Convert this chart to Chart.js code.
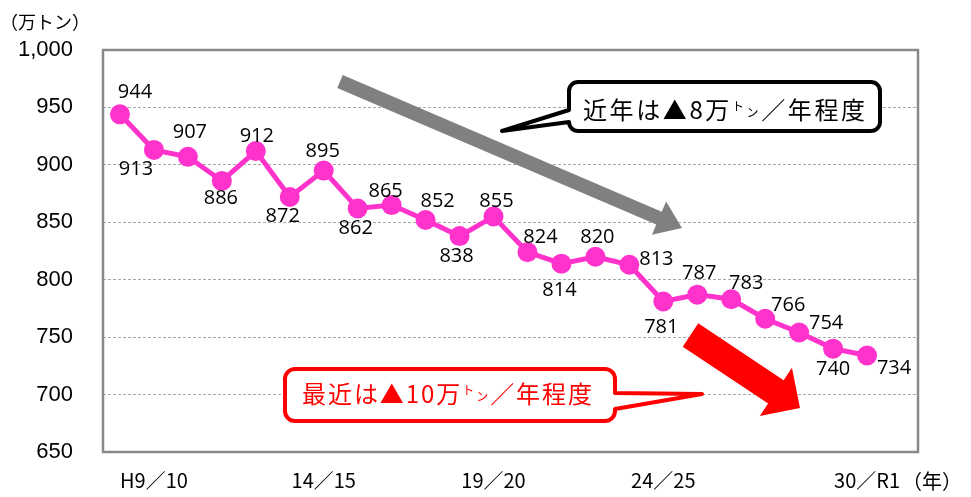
<!DOCTYPE html>
<html lang="ja">
<head>
    <meta charset="UTF-8">
    <title>漁獲量の推移</title>
    <script src="https://cdn.jsdelivr.net/npm/chart.js"></script>
    <style>
        html, body { margin: 0; padding: 0; background: #fff; }
        #wrap { width: 971px; height: 497px; position: relative; }
    </style>
</head>
<body>
    <div id="wrap"><canvas id="chart"></canvas></div>

    <script>
        // 年度 (H8/9 〜 30/R1) と 値 (万トン)
        const categories = ['H8/9', 'H9/10', '10/11', '11/12', '12/13', '13/14', '14/15', '15/16',
            '16/17', '17/18', '18/19', '19/20', '20/21', '21/22', '22/23', '23/24', '24/25',
            '25/26', '26/27', '27/28', '28/29', '29/30', '30/R1', ''];
        const values = [944, 913, 907, 886, 912, 872, 895, 862, 865, 852, 838, 855,
            824, 814, 820, 813, 781, 787, 783, 766, 754, 740, 734, null];
        const tickIndexes = [1, 6, 11, 16, 22];
        const yTicks = { min: 650, max: 1000, step: 50 };

        // ラベル位置のずれ (px)
        const labelOffsets = [[15, -23], [-18, 18], [2, -26], [-1, 16], [1, -16], [-7, 18],
            [-1, -21], [-2, 18], [-6, -15], [12, -20], [-3, 19], [3, -17], [13, -16], [-2, 25],
            [2, -21], [27, -7], [-2, 24], [2, -23], [15, -17], [23, -15], [27, -11], [0, 19], [27, 11]];

        const JP = '"Noto Sans CJK JP", "Noto Sans", sans-serif';

        function drawArrow(ctx, sx, sy, tx, ty, w, hw, hl, color) {
            const len = Math.hypot(tx - sx, ty - sy);
            const ux = (tx - sx) / len, uy = (ty - sy) / len;
            const nx = -uy, ny = ux;
            const bx = tx - ux * hl, by = ty - uy * hl;
            ctx.beginPath();
            ctx.moveTo(sx + nx * w / 2, sy + ny * w / 2);
            ctx.lineTo(bx + nx * w / 2, by + ny * w / 2);
            ctx.lineTo(bx + nx * hw / 2, by + ny * hw / 2);
            ctx.lineTo(tx, ty);
            ctx.lineTo(bx - nx * hw / 2, by - ny * hw / 2);
            ctx.lineTo(bx - nx * w / 2, by - ny * w / 2);
            ctx.lineTo(sx - nx * w / 2, sy - ny * w / 2);
            ctx.closePath();
            ctx.fillStyle = color;
            ctx.fill();
        }

        function callout(ctx, x0, y0, x1, y1, r, tail, color) {
            ctx.beginPath();
            ctx.moveTo(x0 + r, y0);
            ctx.lineTo(x1 - r, y0);
            ctx.arcTo(x1, y0, x1, y0 + r, r);
            if (tail.side === 'right') {
                ctx.lineTo(x1, tail.a);
                ctx.lineTo(tail.x, tail.y);
                ctx.lineTo(x1, tail.b);
            }
            ctx.lineTo(x1, y1 - r);
            ctx.arcTo(x1, y1, x1 - r, y1, r);
            ctx.lineTo(x0 + r, y1);
            ctx.arcTo(x0, y1, x0, y1 - r, r);
            if (tail.side === 'left') {
                ctx.lineTo(x0, tail.b);
                ctx.lineTo(tail.x, tail.y);
                ctx.lineTo(x0, tail.a);
            }
            ctx.lineTo(x0, y0 + r);
            ctx.arcTo(x0, y0, x0 + r, y0, r);
            ctx.closePath();
            ctx.fillStyle = '#fff';
            ctx.fill();
            ctx.lineWidth = 4;
            ctx.lineJoin = 'round';
            ctx.strokeStyle = color;
            ctx.stroke();
        }

        // 文字を一文字ずつ並べて幅に合わせる
        function drawRuns(ctx, runs, cx, baseline, targetW, color) {
            const chars = [];
            runs.forEach(run => {
                for (const ch of run.t) {
                    ctx.font = run.s + 'px ' + JP;
                    chars.push({ ch, s: run.s, dy: run.dy || 0, w: ctx.measureText(ch).width });
                }
            });
            const natural = chars.reduce((a, c) => a + c.w, 0);
            const gap = (targetW - natural) / (chars.length - 1);
            let x = cx - targetW / 2;
            ctx.fillStyle = color;
            ctx.textAlign = 'left';
            ctx.textBaseline = 'alphabetic';
            chars.forEach(c => {
                ctx.font = c.s + 'px ' + JP;
                ctx.fillText(c.ch, x, baseline + c.dy);
                x += c.w + gap;
            });
        }

        const decorations = {
            id: 'decorations',
            beforeDatasetsDraw(chart) {
                const { ctx, chartArea: a } = chart;
                ctx.save();
                ctx.strokeStyle = '#898989';
                ctx.lineWidth = 2.5;
                ctx.strokeRect(a.left, a.top, a.right - a.left, a.bottom - a.top);
                ctx.restore();
            },
            afterDatasetsDraw(chart) {
                const { ctx } = chart;
                const meta = chart.getDatasetMeta(0);
                ctx.save();
                ctx.font = '20px "Open Sans", sans-serif';
                ctx.fillStyle = '#000';
                ctx.textAlign = 'center';
                ctx.textBaseline = 'alphabetic';
                values.forEach((v, i) => {
                    if (v === null) return;
                    const pt = meta.data[i];
                    const [dx, dy] = labelOffsets[i];
                    ctx.fillText(String(v), pt.x + dx, pt.y + dy + 7);
                });
                ctx.restore();
            },
            afterDraw(chart) {
                const { ctx } = chart;
                ctx.save();
                // 単位
                ctx.font = '18px ' + JP;
                ctx.fillStyle = '#000';
                ctx.textAlign = 'left';
                ctx.textBaseline = 'alphabetic';
                ctx.fillText('（万トン）', 0, 29);
                ctx.font = '20px ' + JP;
                ctx.textBaseline = 'middle';
                ctx.fillText('（年）', 902, 481);

                // 矢印
                drawArrow(ctx, 340, 81.5, 682, 228, 14, 36, 25, '#808080');
                drawArrow(ctx, 690.5, 335, 800, 408, 28, 58, 29, '#ff0000');

                // 吹き出し
                callout(ctx, 569, 82, 880, 131, 9, { side: 'left', a: 110, b: 122, x: 502, y: 131 }, '#000');
                drawRuns(ctx, [
                    { t: '近年は▲8万', s: 24 },
                    { t: 'ト', s: 12, dy: -8 },
                    { t: 'ン', s: 12, dy: -2 },
                    { t: '／年程度', s: 24 }
                ], 724, 119, 282, '#000');

                callout(ctx, 285, 369, 615, 421, 10, { side: 'right', a: 393, b: 409, x: 702, y: 394 }, '#ff0000');
                drawRuns(ctx, [
                    { t: '最近は▲10万', s: 24 },
                    { t: 'ト', s: 12, dy: -8 },
                    { t: 'ン', s: 12, dy: -2 },
                    { t: '／年程度', s: 24 }
                ], 447, 403, 290, '#ff0000');
                ctx.restore();
            }
        };

        new Chart(document.getElementById('chart'), {
            type: 'line',
            data: {
                labels: categories,
                datasets: [{
                    data: values,
                    borderColor: '#ff33cc',
                    backgroundColor: '#ff33cc',
                    borderWidth: 5,
                    pointRadius: 10,
                    pointHoverRadius: 10,
                    pointBorderWidth: 0,
                    tension: 0
                }]
            },
            options: {
                responsive: true,
                maintainAspectRatio: false,
                animation: false,
                layout: { padding: { top: 50, right: 53, left: 0, bottom: 0 } },
                plugins: { legend: { display: false }, tooltip: { enabled: false } },
                scales: {
                    x: {
                        type: 'category',
                        offset: true,
                        grid: { display: false },
                        border: { display: false },
                        afterFit(axis) { axis.height = 45; },
                        ticks: {
                            autoSkip: false,
                            maxRotation: 0,
                            padding: 8,
                            color: '#000',
                            font: { family: JP, size: 20 },
                            callback: (v, i) => tickIndexes.includes(i) ? categories[i].replace('/', '／') : ''
                        }
                    },
                    y: {
                        min: yTicks.min,
                        max: yTicks.max,
                        afterFit(axis) { axis.width = 103; },
                        grid: { color: '#a8a8a8', lineWidth: 1, drawTicks: false },
                        border: { display: false, dash: [3, 2] },
                        ticks: {
                            stepSize: yTicks.step,
                            padding: 30,
                            color: '#000',
                            font: { family: '"Liberation Sans", Arial, sans-serif', size: 22 },
                            callback: v => v.toLocaleString('en-US')
                        }
                    }
                }
            },
            plugins: [decorations]
        });
    </script>
</body>
</html>
